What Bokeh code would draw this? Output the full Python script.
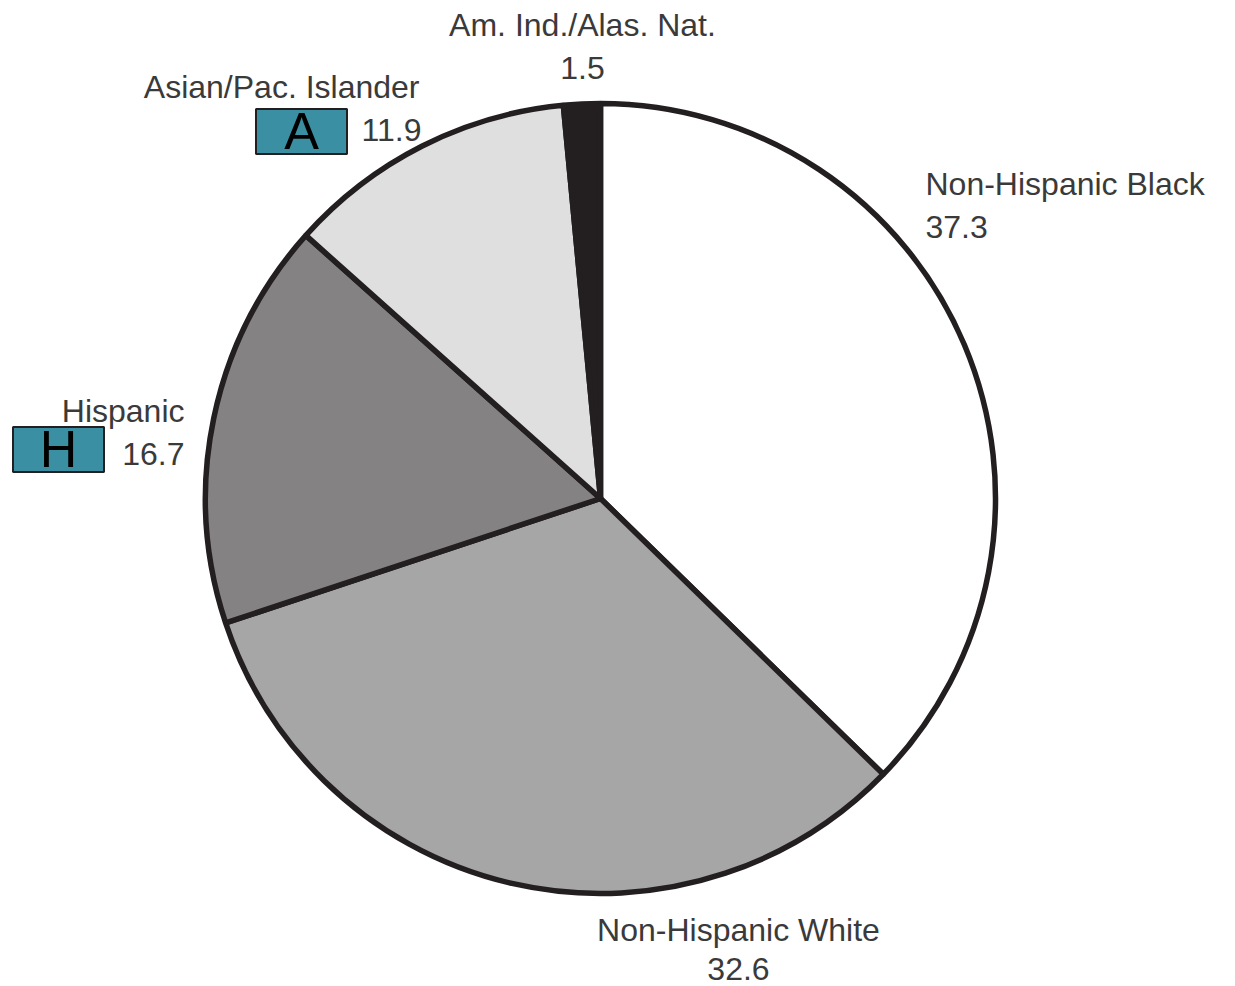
from bokeh.plotting import figure
from bokeh.models import Range1d, ColumnDataSource
from bokeh.core.properties import value
from bokeh.embed import file_html
from bokeh.resources import INLINE
import math

# ---- data ----
categories = ["Non-Hispanic Black", "Non-Hispanic White", "Hispanic",
              "Asian/Pac. Islander", "Am. Ind./Alas. Nat."]
values = [37.3, 32.6, 16.7, 11.9, 1.5]
value_labels = ["37.3", "32.6", "16.7", "11.9", "1.5"]
colors = ["#ffffff", "#a6a6a6", "#848283", "#dfdfdf", "#231f20"]

W, H = 1235, 986
p = figure(width=W, height=H, output_backend="svg", toolbar_location=None,
           x_range=Range1d(0, W), y_range=Range1d(0, H), min_border=0,
           background_fill_color="white", border_fill_color="white")
p.axis.visible = False
p.grid.visible = False
p.outline_line_color = None

cx, cy, r = 600, H - 498, 395
total = sum(values)
starts, ends = [], []
cum = 0.0
for v in values:
    a0 = math.radians(90 - (cum + v) / total * 360)
    a1 = math.radians(90 - cum / total * 360)
    starts.append(a0)
    ends.append(a1)
    cum += v

src = ColumnDataSource(dict(start=starts, end=ends, color=colors, cat=categories))
p.wedge(x=cx, y=cy, radius=r, start_angle="start", end_angle="end",
        fill_color="color", line_color="#231f20", line_width=5.5, source=src)

font = value("Liberation Sans")
tc = "#3a3a3a"
fs = "32px"

def label(x, y, txt, align="left", size=fs, color=tc):
    p.text(x=[x], y=[H - y], text=[txt], text_font=font, text_font_size=size,
           text_color=color, text_align=align, text_baseline="middle")

# label positions (screen pixels)
label(925, 183, categories[0]); label(925, 226, value_labels[0])
label(738, 929, categories[1], "center"); label(738, 968, value_labels[1], "center")
label(184, 410, categories[2], "right"); label(184, 453, value_labels[2], "right")
label(419, 86, categories[3], "right"); label(421, 129, value_labels[3], "right")
label(582, 24, categories[4], "center"); label(582, 67, value_labels[4], "center")

# teal marker boxes
box_letters = ["A", "H"]
box_x = [301, 58]
box_y = [131, 449]
p.rect(x=box_x, y=[H - y for y in box_y], width=91, height=45,
       fill_color="#3a8fa3", line_color="#231f20", line_width=2)
for bx, by, t in zip(box_x, box_y, box_letters):
    p.text(x=[bx], y=[H - by + 1], text=[t], text_font=font, text_font_size="52px",
           text_color="black", text_align="center", text_baseline="middle")

open("out.html", "w").write(file_html(p, INLINE))
